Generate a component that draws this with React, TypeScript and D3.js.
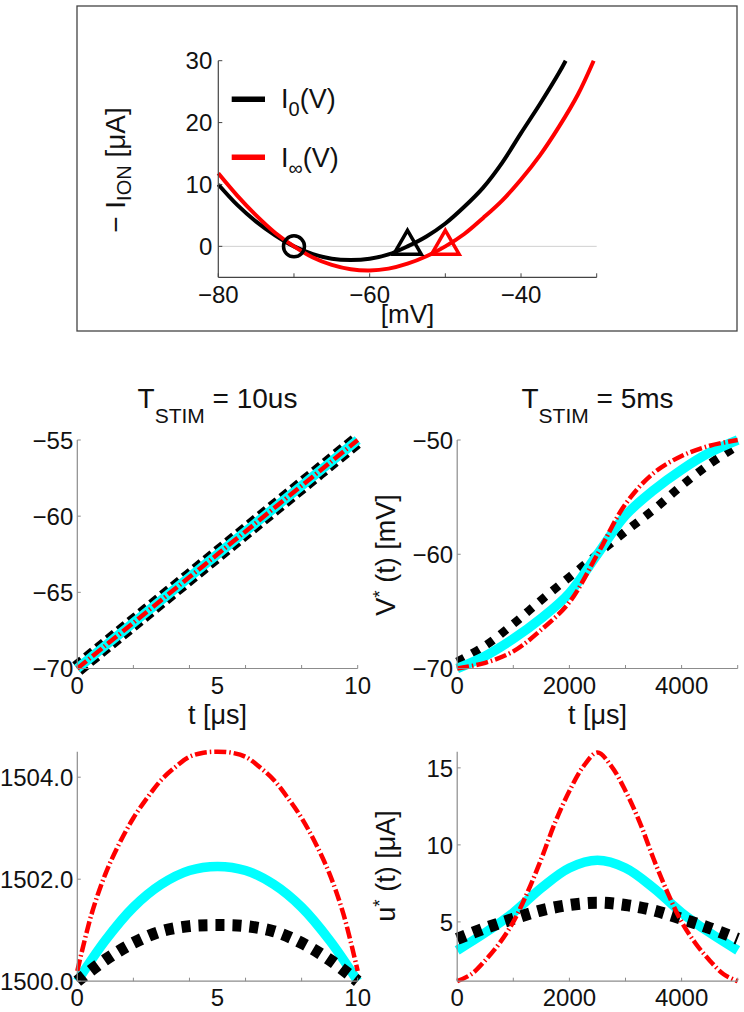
import React from 'react';
import * as d3 from 'd3';

// ---- top panel: -I_ION against V ----
const vZero = [-80, -77.5, -75, -72.5, -70, -67.5, -65, -62.5, -60, -57.5, -55, -52.5, -50, -47.5, -45, -42.5, -40, -37.5, -35, -34.1];
const iZero = [10, 6.7, 4, 1.8, 0, -1.25, -2, -2.2, -2, -1.3, 0, 1.6, 3.7, 6.4, 9.5, 13.5, 18.3, 23, 28, 30];
const vInf = [-80, -77.5, -75, -72.5, -70, -67.5, -65, -62.5, -60, -57.5, -55, -52.5, -50, -47.5, -45, -42.5, -40, -37.5, -35, -32.5, -30.4];
const iInf = [11.8, 8.2, 5, 2.2, 0, -1.8, -3, -3.7, -3.9, -3.6, -2.8, -1.6, 0, 2, 4.6, 7.4, 10.8, 14.7, 19.3, 24.5, 30];
const restPoint = [-70, 0];
const thresholdZero = [-55, 0];
const thresholdInf = [-50, 0];
const topXTicks = [-80, -70, -60, -50, -40, -30];
const topXLabels = [-80, -60, -40];
const topYTicks = [0, 10, 20, 30];

// ---- T_STIM = 10us ----
const tShort = [0, 1, 2, 3, 4, 5, 6, 7, 8, 9, 10];
const tShortHalf = [0, 0.5, 1, 1.5, 2, 2.5, 3, 3.5, 4, 4.5, 5, 5.5, 6, 6.5, 7, 7.5, 8, 8.5, 9, 9.5, 10];
const vShortBlack = [-70, -68.5, -67, -65.5, -64, -62.5, -61, -59.5, -58, -56.5, -55];
const vShortCyan = [-70, -68.5, -67, -65.5, -64, -62.5, -61, -59.5, -58, -56.5, -55];
const vShortRed = [-70, -68.5, -67, -65.5, -64, -62.5, -61, -59.5, -58, -56.5, -55];
const uShortBlack = [1500.0, 1500.42, 1500.75, 1500.98, 1501.08, 1501.1, 1501.08, 1500.98, 1500.75, 1500.42, 1500.0];
const uShortCyan = [1500.0, 1500.8, 1501.45, 1501.9, 1502.17, 1502.25, 1502.17, 1501.9, 1501.45, 1500.8, 1500.0];
const uShortRed = [1500.2, 1501.3, 1502.1, 1502.7, 1503.2, 1503.6, 1503.95, 1504.2, 1504.4, 1504.48, 1504.5,
  1504.48, 1504.4, 1504.2, 1503.95, 1503.6, 1503.2, 1502.7, 1502.1, 1501.3, 1500.2];

// ---- T_STIM = 5ms ----
const tLong = [0, 500, 1000, 1500, 2000, 2500, 3000, 3500, 4000, 4500, 5000];
const tLongQuarter = [0, 250, 500, 750, 1000, 1250, 1500, 1750, 2000, 2250, 2500, 2750, 3000, 3250, 3500, 3750, 4000, 4250, 4500, 4750, 5000];
const vLongBlack = [-69.4, -68, -66.1, -64, -62, -60, -58, -56.1, -54, -52.1, -50.5];
const vLongCyan = [-70, -68.9, -67.4, -65.6, -63.4, -60, -56.6, -54.4, -52.6, -51.1, -50];
const vLongRed = [-70, -69.5, -68.5, -66.6, -64.2, -60, -55.6, -52.9, -51.4, -50.5, -50];
const uLongBlack = [3.9, 4.6, 5.2, 5.75, 6.1, 6.25, 6.1, 5.75, 5.2, 4.6, 3.9];
const uLongCyan = [3.15, 4.3, 5.6, 7.2, 8.5, 9.0, 8.5, 7.2, 5.6, 4.3, 3.15];
const uLongRed = [1.15, 1.6, 2.5, 3.6, 5.0, 6.9, 9.1, 11.5, 13.5, 15.1, 16.0, 15.1, 13.5, 11.5, 9.1, 6.9, 5.0, 3.6, 2.5, 1.6, 1.15];

const FONT = '"Liberation Sans", Arial, Helvetica, sans-serif';
const fmtInt = d3.format('d');
const fmt1 = d3.format('.1f');

const styles = {
  black: { stroke: '#000', width: 12, dash: '9 8' },
  cyan: { stroke: '#00ffff', width: 9.5, dash: undefined as string | undefined },
  red: { stroke: '#ff0000', width: 4.5, dash: '12 3 1.5 3' },
};

type Series = { t: number[]; v: number[]; kind: 'black' | 'cyan' | 'red'; width?: number; dash?: string };

type PanelProps = {
  x0: number; x1: number; y0: number; y1: number;
  xDomain: [number, number]; yDomain: [number, number];
  xTicks: number[]; xLabels: number[];
  yTicks: number[]; yFormat: (n: number) => string;
  series: Series[];
};

function Panel({ x0, x1, y0, y1, xDomain, yDomain, xTicks, xLabels, yTicks, yFormat, series }: PanelProps) {
  const x = d3.scaleLinear().domain(xDomain).range([x0, x1]);
  const y = d3.scaleLinear().domain(yDomain).range([y1, y0]);
  const axisColor = '#8c8c8c';
  return (
    <g>
      {series.map((s, i) => {
        const st = styles[s.kind];
        const line = d3.line<number>()
          .x((_, j) => x(s.t[j]))
          .y(d => y(d))
          .curve(d3.curveCatmullRom.alpha(0.5));
        return (
          <path key={i} d={line(s.v) || ''} fill="none" stroke={st.stroke}
            strokeWidth={s.width ?? st.width} strokeDasharray={s.dash ?? st.dash} strokeLinecap="butt" />
        );
      })}
      <line x1={x0} x2={x1} y1={y1} y2={y1} stroke={axisColor} strokeWidth={1.2} />
      <line x1={x0} x2={x0} y1={y0} y2={y1} stroke={axisColor} strokeWidth={1.2} />
      {xTicks.map(t => (
        <line key={'xt' + t} x1={x(t)} x2={x(t)} y1={y1} y2={y1 - 3.5} stroke={axisColor} strokeWidth={1} />
      ))}
      {yTicks.map(t => (
        <line key={'yt' + t} x1={x0} x2={x0 + 3.5} y1={y(t)} y2={y(t)} stroke={axisColor} strokeWidth={1} />
      ))}
      {xLabels.map(t => (
        <text key={'xl' + t} x={x(t)} y={y1 + 25} textAnchor="middle" fontSize={24} fill="#111">{fmtInt(t)}</text>
      ))}
      {yTicks.map(t => (
        <text key={'yl' + t} x={x0 - 4} y={y(t)} dy="0.36em" textAnchor="end" fontSize={24} fill="#111">{yFormat(t)}</text>
      ))}
    </g>
  );
}

function TopPanel() {
  const x = d3.scaleLinear().domain([-80, -30]).range([218.3, 596.7]);
  const y = d3.scaleLinear().domain([-5, 30]).range([277.3, 60.7]);
  const line = (vs: number[]) => d3.line<number>()
    .x((_, j) => x(vs[j]))
    .y(d => y(d))
    .curve(d3.curveCatmullRom.alpha(0.5));
  const tri = (p: number[], r: number) => {
    const cx = x(p[0]), cy = y(p[1]);
    return `M${cx},${cy - r}L${cx + r * 0.866},${cy + r / 2}L${cx - r * 0.866},${cy + r / 2}Z`;
  };
  const axisColor = '#444';
  return (
    <g>
      <rect x={77} y={6} width={660} height={325} fill="none" stroke="#444" strokeWidth={1.3} />
      <line x1={x(-80)} x2={x(-30)} y1={y(0)} y2={y(0)} stroke="#d0d0d0" strokeWidth={1} />
      <path d={line(vZero)(iZero) || ''} fill="none" stroke="#000" strokeWidth={4} />
      <path d={line(vInf)(iInf) || ''} fill="none" stroke="#ff0000" strokeWidth={4} />
      <circle cx={x(restPoint[0])} cy={y(restPoint[1])} r={10.5} fill="none" stroke="#000" strokeWidth={3.5} />
      <path d={tri(thresholdZero, 16)} fill="none" stroke="#000" strokeWidth={3.5} strokeLinejoin="miter" />
      <path d={tri(thresholdInf, 16)} fill="none" stroke="#ff0000" strokeWidth={3.5} strokeLinejoin="miter" />
      <line x1={x(-80)} x2={x(-30)} y1={y(-5)} y2={y(-5)} stroke={axisColor} strokeWidth={1.2} />
      <line x1={x(-80)} x2={x(-80)} y1={y(-5)} y2={y(30)} stroke={axisColor} strokeWidth={1.2} />
      {topXTicks.map(t => (
        <line key={'tx' + t} x1={x(t)} x2={x(t)} y1={y(-5)} y2={y(-5) - 4} stroke={axisColor} strokeWidth={1} />
      ))}
      {topYTicks.map(t => (
        <line key={'ty' + t} x1={x(-80)} x2={x(-80) + 4} y1={y(t)} y2={y(t)} stroke={axisColor} strokeWidth={1} />
      ))}
      {topXLabels.map(t => (
        <text key={'txl' + t} x={x(t)} y={y(-5) + 26} textAnchor="middle" fontSize={24} fill="#111">{fmtInt(t)}</text>
      ))}
      {topYTicks.map(t => (
        <text key={'tyl' + t} x={x(-80) - 6} y={y(t)} dy="0.36em" textAnchor="end" fontSize={24} fill="#111">{fmtInt(t)}</text>
      ))}
      <text x={407.5} y={323} textAnchor="middle" fontSize={26} fill="#111">[mV]</text>
      <text transform="translate(125,170) rotate(-90)" textAnchor="middle" fontSize={28} fill="#111">
        − I<tspan dy={6} fontSize={20}>ION</tspan><tspan dy={-6}> [μA]</tspan>
      </text>
      {/* legend */}
      <line x1={231.7} x2={265} y1={99.3} y2={99.3} stroke="#000" strokeWidth={5.5} />
      <text x={281} y={108} fontSize={27} fill="#111">I<tspan dy={8} fontSize={20}>0</tspan><tspan dy={-8}>(V)</tspan></text>
      <line x1={231.7} x2={265} y1={157.3} y2={157.3} stroke="#ff0000" strokeWidth={5.5} />
      <text x={281} y={166.5} fontSize={27} fill="#111">I<tspan dy={8} fontSize={20}>∞</tspan><tspan dy={-8}>(V)</tspan></text>
    </g>
  );
}

export default function App() {
  const left = { x0: 77.3, x1: 357.7 };
  const right = { x0: 457.2, x1: 737.7 };
  const mid = { y0: 440, y1: 668.5 };
  const bot = { y0: 751.7, y1: 981.2 };
  return (
    <svg width={744} height={1012} style={{ position: 'absolute', left: 0, top: 0, background: '#fff' }}
      fontFamily={FONT}>
      <rect x={0} y={0} width={744} height={1012} fill="#fff" />
      <TopPanel />

      <text x={217.5} y={408} textAnchor="middle" fontSize={28} fill="#111">
        T<tspan dy={15} fontSize={21}>STIM</tspan><tspan dy={-15}> = 10us</tspan>
      </text>
      <text x={597.5} y={408} textAnchor="middle" fontSize={28} fill="#111">
        T<tspan dy={15} fontSize={21}>STIM</tspan><tspan dy={-15}> = 5ms</tspan>
      </text>

      <Panel {...left} {...mid} xDomain={[0, 10]} yDomain={[-70, -55]}
        xTicks={[0, 2, 4, 6, 8, 10]} xLabels={[0, 5, 10]} yTicks={[-70, -65, -60, -55]} yFormat={fmtInt}
        series={[
          { t: tShort, v: vShortBlack, kind: 'black', width: 16, dash: '9 5' },
          { t: tShort, v: vShortCyan, kind: 'cyan' },
          { t: tShort, v: vShortRed, kind: 'red' },
        ]} />
      <Panel {...right} {...mid} xDomain={[0, 5000]} yDomain={[-70, -50]}
        xTicks={[0, 1000, 2000, 3000, 4000, 5000]} xLabels={[0, 2000, 4000]} yTicks={[-70, -60, -50]} yFormat={fmtInt}
        series={[
          { t: tLong, v: vLongBlack, kind: 'black', width: 8.5, dash: '8 9' },
          { t: tLong, v: vLongCyan, kind: 'cyan' },
          { t: tLong, v: vLongRed, kind: 'red' },
        ]} />
      <Panel {...left} {...bot} xDomain={[0, 10]} yDomain={[1500, 1504.5]}
        xTicks={[0, 2, 4, 6, 8, 10]} xLabels={[0, 5, 10]} yTicks={[1500, 1502, 1504]} yFormat={fmt1}
        series={[
          { t: tShort, v: uShortCyan, kind: 'cyan' },
          { t: tShort, v: uShortBlack, kind: 'black' },
          { t: tShortHalf, v: uShortRed, kind: 'red' },
        ]} />
      <Panel {...right} {...bot} xDomain={[0, 5000]} yDomain={[1.15, 16.05]}
        xTicks={[0, 1000, 2000, 3000, 4000, 5000]} xLabels={[0, 2000, 4000]} yTicks={[5, 10, 15]} yFormat={fmtInt}
        series={[
          { t: tLong, v: uLongCyan, kind: 'cyan' },
          { t: tLong, v: uLongBlack, kind: 'black' },
          { t: tLongQuarter, v: uLongRed, kind: 'red' },
        ]} />

      <text x={217.5} y={724} textAnchor="middle" fontSize={27} fill="#111">t [μs]</text>
      <text x={597.5} y={724} textAnchor="middle" fontSize={27} fill="#111">t [μs]</text>

      <text transform="translate(395,555) rotate(-90)" textAnchor="middle" fontSize={27} fill="#111">
        V<tspan dy={-9} fontSize={19}>*</tspan><tspan dy={9}> (t) [mV]</tspan>
      </text>
      <text transform="translate(395,866) rotate(-90)" textAnchor="middle" fontSize={27} fill="#111">
        u<tspan dy={-9} fontSize={19}>*</tspan><tspan dy={9}> (t) [μA]</tspan>
      </text>
    </svg>
  );
}
